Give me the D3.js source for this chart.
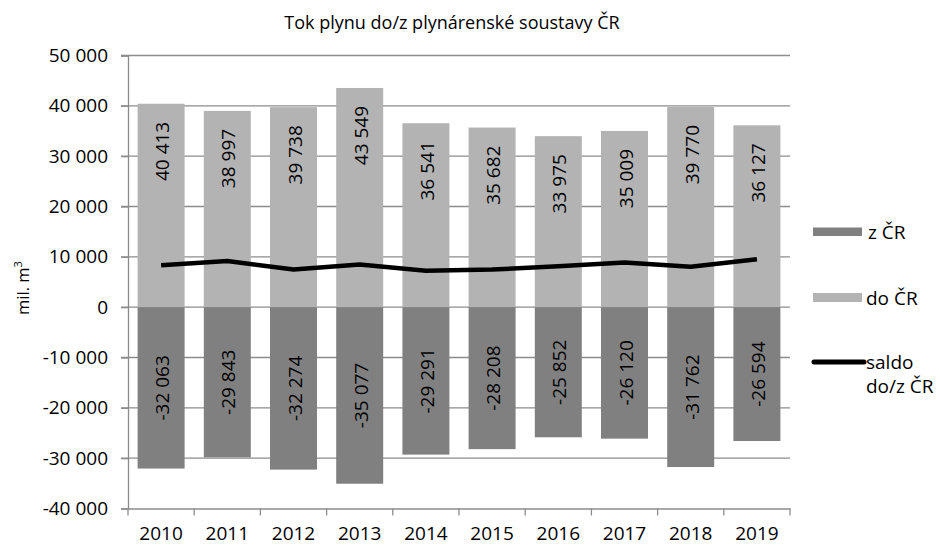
<!DOCTYPE html>
<html>
<head>
<meta charset="utf-8">
<script src="https://cdn.jsdelivr.net/npm/d3@7"></script>
<style>
    body { margin: 0; background: #fff; }
    svg text { font-family: "Open Sans", "Noto Sans", sans-serif; fill: #000; }
</style>
</head>
<body>
<div id="app"></div>
<script>
// ----- Data -----
const years = ["2010", "2011", "2012", "2013", "2014", "2015", "2016", "2017", "2018", "2019"];
const toCR = [40413, 38997, 39738, 43549, 36541, 35682, 33975, 35009, 39770, 36127];       // do ČR
const fromCR = [-32063, -29843, -32274, -35077, -29291, -28208, -25852, -26120, -31762, -26594]; // z ČR
const balance = [8350, 9154, 7464, 8472, 7250, 7474, 8123, 8889, 8008, 9533];             // saldo do/z ČR
const yTicks = [-40000, -30000, -20000, -10000, 0, 10000, 20000, 30000, 40000, 50000];

const Const = {
    Width: 940,
    Height: 546,
    Left: 128,
    Right: 790,
    Top: 55.5,
    Bottom: 508.5,
    LightGray: "#b3b3b3",
    DarkGray: "#808080",
    GridColor: "#8c8c8c",
    FontSize: "19px",
};

function main() {
    const czLocale = d3.formatLocale({
        decimal: ",", thousands: " ", grouping: [3], currency: ["", ""], minus: "-"
    });
    const fmt = czLocale.format(",d");

    const svg = d3.select("#app").append("svg")
        .attr("width", Const.Width)
        .attr("height", Const.Height);

    // Scales
    const xScale = d3.scaleBand()
        .domain(years)
        .range([Const.Left, Const.Right])
        .paddingInner(0.29)
        .paddingOuter(0.145);

    const yScale = d3.scaleLinear()
        .domain([-40000, 50000])
        .range([Const.Bottom, Const.Top]);

    // Gridlines
    svg.append("g")
        .selectAll("line")
        .data(yTicks.filter(t => t !== -40000))
        .enter()
        .append("line")
            .attr("x1", Const.Left - 7)
            .attr("x2", Const.Right)
            .attr("y1", d => yScale(d))
            .attr("y2", d => yScale(d))
            .attr("stroke", Const.GridColor)
            .attr("stroke-width", 1.3);

    // Bars
    svg.append("g")
        .selectAll("rect")
        .data(years)
        .enter()
        .append("rect")
            .attr("x", d => xScale(d))
            .attr("width", xScale.bandwidth())
            .attr("y", (d, i) => yScale(toCR[i]))
            .attr("height", (d, i) => yScale(0) - yScale(toCR[i]))
            .attr("fill", Const.LightGray);

    svg.append("g")
        .selectAll("rect")
        .data(years)
        .enter()
        .append("rect")
            .attr("x", d => xScale(d))
            .attr("width", xScale.bandwidth())
            .attr("y", yScale(0))
            .attr("height", (d, i) => yScale(fromCR[i]) - yScale(0))
            .attr("fill", Const.DarkGray);

    // Y axis
    const axisLeft = d3.axisLeft(yScale)
        .tickValues(yTicks)
        .tickSize(7)
        .tickFormat(d => fmt(d));
    const gy = svg.append("g")
        .attr("transform", `translate(${Const.Left}, 0)`)
        .call(axisLeft);
    gy.select(".domain").attr("stroke", Const.GridColor).attr("stroke-width", 1.3);
    gy.selectAll(".tick line").attr("stroke", Const.GridColor).attr("stroke-width", 1.3);
    gy.selectAll(".tick text")
        .attr("x", -20)
        .style("font-size", Const.FontSize)
        .style("font-family", "'Open Sans', sans-serif");

    // X axis
    const axisBottom = d3.axisBottom(xScale).tickSize(0);
    const gx = svg.append("g")
        .attr("transform", `translate(0, ${Const.Bottom})`)
        .call(axisBottom);
    gx.select(".domain").attr("stroke", Const.GridColor).attr("stroke-width", 1.3);
    gx.selectAll(".tick text")
        .attr("y", 18)
        .style("font-size", Const.FontSize)
        .style("font-family", "'Open Sans', sans-serif");
    // category separators
    const step = xScale.step();
    svg.append("g")
        .selectAll("line")
        .data(d3.range(years.length + 1))
        .enter()
        .append("line")
            .attr("x1", i => Const.Left + i * step)
            .attr("x2", i => Const.Left + i * step)
            .attr("y1", Const.Bottom)
            .attr("y2", Const.Bottom + 7)
            .attr("stroke", Const.GridColor)
            .attr("stroke-width", 1.3);

    // Saldo line
    const line = d3.line()
        .x((d, i) => xScale(years[i]) + xScale.bandwidth() / 2)
        .y(d => yScale(d));
    svg.append("path")
        .datum(balance)
        .attr("d", line)
        .attr("fill", "none")
        .attr("stroke", "#000")
        .attr("stroke-width", 4.5)
        .attr("stroke-linejoin", "round");

    // Bar labels (rotated)
    svg.append("g")
        .selectAll("text")
        .data(years)
        .enter()
        .append("text")
            .attr("transform", (d, i) =>
                `translate(${xScale(d) + xScale.bandwidth() / 2 + 8}, ${yScale(toCR[i]) + 18}) rotate(-90)`)
            .attr("text-anchor", "end")
            .style("font-size", Const.FontSize)
            .text((d, i) => fmt(toCR[i]));

    svg.append("g")
        .selectAll("text")
        .data(years)
        .enter()
        .append("text")
            .attr("transform", (d, i) =>
                `translate(${xScale(d) + xScale.bandwidth() / 2 + 8}, ${(yScale(0) + yScale(fromCR[i])) / 2}) rotate(-90)`)
            .attr("text-anchor", "middle")
            .style("font-size", Const.FontSize)
            .text((d, i) => fmt(fromCR[i]));

    // Title
    svg.append("text")
        .attr("x", 452)
        .attr("y", 29)
        .attr("text-anchor", "middle")
        .style("font-size", "18px")
        .text("Tok plynu do/z plynárenské soustavy ČR");

    // Y label
    const yLabel = svg.append("text")
        .attr("transform", "translate(29, 288) rotate(-90)")
        .attr("text-anchor", "middle")
        .style("font-size", "16.5px");
    yLabel.append("tspan").text("mil. m");
    yLabel.append("tspan")
        .attr("dy", -7)
        .style("font-size", "11px")
        .text("3");

    // Legend
    const legend = svg.append("g");
    legend.append("rect")
        .attr("x", 813).attr("y", 227.5)
        .attr("width", 49).attr("height", 8.5)
        .attr("fill", Const.DarkGray);
    legend.append("text")
        .attr("x", 868).attr("y", 238.5)
        .style("font-size", Const.FontSize)
        .text("z ČR");

    legend.append("rect")
        .attr("x", 813).attr("y", 293)
        .attr("width", 49).attr("height", 9)
        .attr("fill", Const.LightGray);
    legend.append("text")
        .attr("x", 866).attr("y", 304.5)
        .style("font-size", Const.FontSize)
        .text("do ČR");

    legend.append("line")
        .attr("x1", 814).attr("x2", 864)
        .attr("y1", 362).attr("y2", 362)
        .attr("stroke", "#000")
        .attr("stroke-width", 5)
        .attr("stroke-linecap", "round");
    legend.append("text")
        .attr("x", 866).attr("y", 369)
        .style("font-size", Const.FontSize)
        .text("saldo");
    legend.append("text")
        .attr("x", 866).attr("y", 393)
        .style("font-size", Const.FontSize)
        .text("do/z ČR");
}

main();
</script>
</body>
</html>
